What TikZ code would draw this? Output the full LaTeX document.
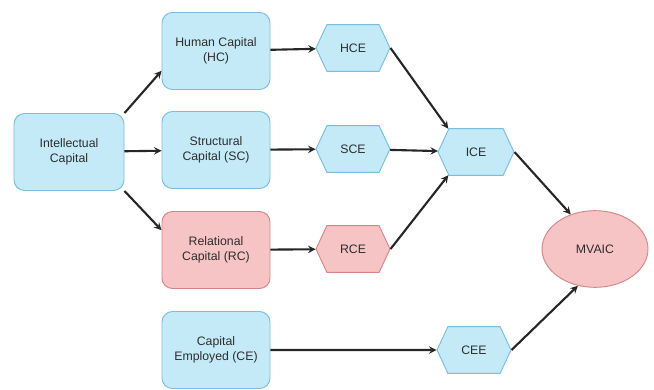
\documentclass[tikz,border=0pt]{standalone}
\usepackage{fontspec}
\setmainfont{Liberation Sans}
\usetikzlibrary{shapes.geometric,shapes.symbols}
\definecolor{boxblue}{RGB}{196,234,248}
\definecolor{lineblue}{RGB}{120,190,222}
\definecolor{boxred}{RGB}{246,196,196}
\definecolor{linered}{RGB}{214,134,134}
\definecolor{txt}{RGB}{45,45,45}
\tikzset{
  capbox/.style={draw=lineblue,fill=boxblue,rounded corners=9pt,line width=0.8pt,
    minimum width=3.24cm,minimum height=2.31cm,align=center,text=txt},
  eff/.style={draw=lineblue,fill=boxblue,signal,signal to=east and west,signal pointer angle=130,
    line width=0.8pt,minimum width=2.22cm,minimum height=1.4cm,inner sep=1pt,text=txt},
  redfill/.style={draw=linered,fill=boxred},
  link/.style={->,line width=1.8pt,draw=black!85}
}
\begin{document}
\begin{tikzpicture}[>=stealth,font=\fontsize{10.5}{12.5}\selectfont,x=0.03cm,y=-0.03cm]
    \useasboundingbox (0,0) rectangle (654,389);
    % capital boxes
    \node[capbox,minimum width=3.3cm] (ic) at (69,152) {Intellectual\\Capital};
    \node[capbox] (hc) at (216,51) {Human Capital\\(HC)};
    \node[capbox] (sc) at (216,150) {Structural\\Capital (SC)};
    \node[capbox,redfill] (rc) at (216,250) {Relational\\Capital (RC)};
    \node[capbox] (ce) at (216,350) {Capital\\Employed (CE)};
    % efficiencies
    \node[eff] (hce) at (353,48) {HCE};
    \node[eff] (sce) at (353,149) {SCE};
    \node[eff,redfill] (rce) at (353,249) {RCE};
    \node[eff,minimum width=2.28cm] (ice) at (476,152) {ICE};
    \node[eff] (cee) at (474,350) {CEE};
    \node[ellipse,draw=linered,fill=boxred,line width=0.8pt,minimum width=3.18cm,minimum height=2.3cm,text=txt] (mv) at (595,249) {MVAIC};
    % arrows
    \draw[link] (ic.north east) -- (hc.200);
    \draw[link] (ic) -- (sc);
    \draw[link] (ic.south east) -- (rc.160);
    \draw[link] (hc) -- (hce);
    \draw[link] (sc) -- (sce);
    \draw[link] (rc) -- (rce);
    \draw[link] (ce) -- (cee);
    \draw[link] (hce.east) -- (ice.140);
    \draw[link] (sce) -- (ice);
    \draw[link] (rce.east) -- (ice.220);
    \draw[link] (ice.east) -- (mv.125);
    \draw[link] (cee.east) -- (mv.245);
\end{tikzpicture}
\end{document}
